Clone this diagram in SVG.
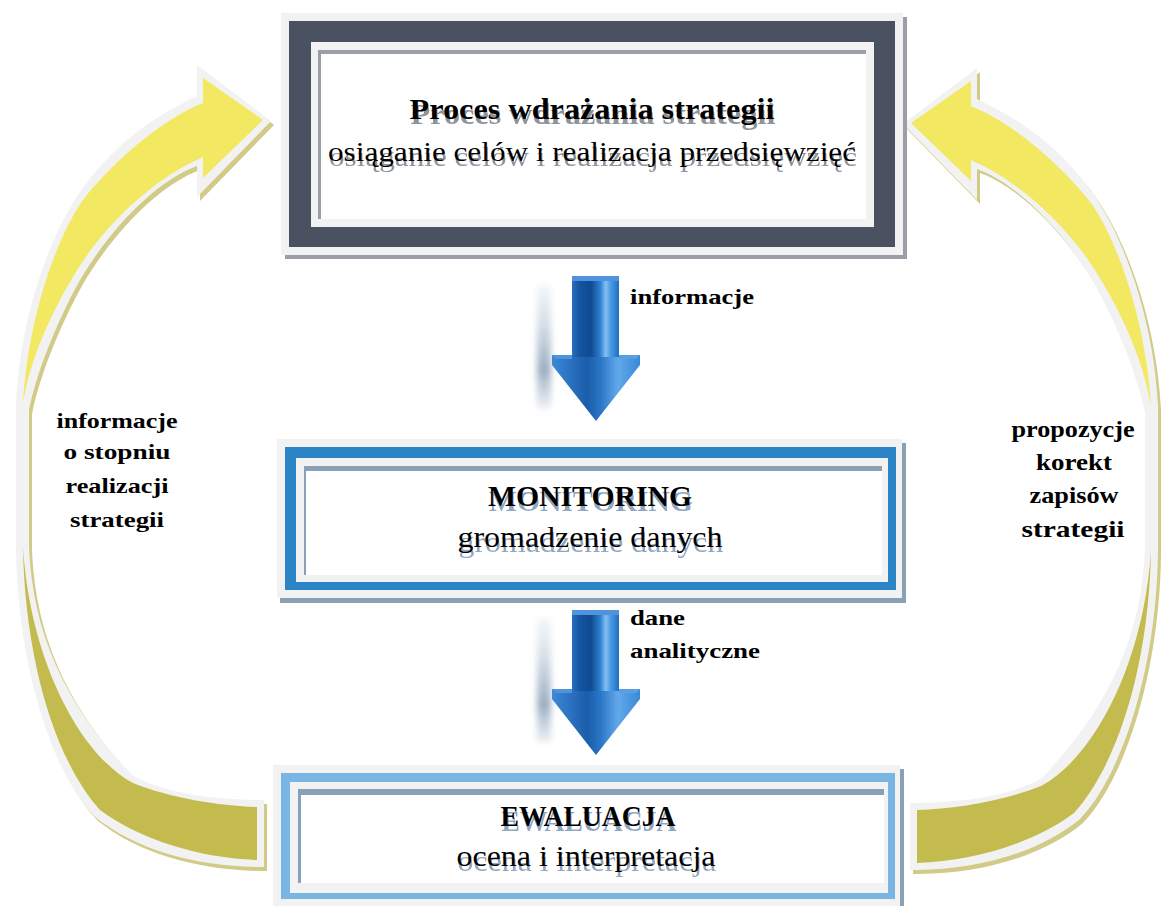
<svg xmlns="http://www.w3.org/2000/svg" xmlns:xlink="http://www.w3.org/1999/xlink" width="1162" height="906" viewBox="0 0 1162 906">
<defs>
<style>
.t{font-family:"Liberation Serif","Times New Roman",serif;fill:#000}
.b{font-weight:bold}
.sh1{fill:#7c818a;opacity:.85}
.sh2{fill:#7d98b4;opacity:.85}
.lbl{font-family:"Liberation Serif","Times New Roman",serif;font-weight:bold;fill:#000;text-anchor:middle}
.light{fill:#f2f2f2}
</style>
<linearGradient id="shaftG" x1="0" y1="0" x2="1" y2="0">
<stop offset="0" stop-color="#2a6fc0"/>
<stop offset="0.15" stop-color="#1456a3"/>
<stop offset="0.4" stop-color="#0f4a90"/>
<stop offset="0.6" stop-color="#2d7fd0"/>
<stop offset="0.72" stop-color="#86bff2"/>
<stop offset="0.82" stop-color="#4a9be3"/>
<stop offset="1" stop-color="#1f6ec4"/>
</linearGradient>
<linearGradient id="headG" x1="0" y1="0" x2="1" y2="0">
<stop offset="0" stop-color="#3d88d8"/>
<stop offset="0.4" stop-color="#1a5daa"/>
<stop offset="0.55" stop-color="#2a76c6"/>
<stop offset="0.75" stop-color="#62a8ea"/>
<stop offset="1" stop-color="#3a88d8"/>
</linearGradient>
<linearGradient id="ghostG" x1="0" y1="0" x2="0" y2="1">
<stop offset="0" stop-color="#c9d5e0" stop-opacity="0.2"/>
<stop offset="0.7" stop-color="#8ea4ba" stop-opacity="0.9"/>
<stop offset="1" stop-color="#b5c4d3" stop-opacity="0.3"/>
</linearGradient>
<filter id="blur" x="-1" y="-0.2" width="3" height="1.4"><feGaussianBlur stdDeviation="3"/></filter>
<g id="blueArrow">
<rect x="537" y="284" width="14" height="124" fill="url(#ghostG)" filter="url(#blur)"/>
<path d="M572,277 L619,277 L619,355 L640,355 L640,365 L596,421 L552,365 L552,355 L572,355 Z" fill="url(#headG)"/>
<rect x="572" y="277" width="47" height="80" fill="url(#shaftG)"/>
<rect x="572" y="276" width="47" height="5" fill="#4f93dc"/>
<path d="M552,355 L572,355 L572,359 L556,359 Z" fill="#4f93dc"/>
<path d="M619,355 L640,355 L636,359 L619,359 Z" fill="#5a9ee3"/>
</g>
<path id="yArrowBack" d="M264,867 L257,867 C196,866 135,850 94,816 C50,770 17,660 16,547 L16,403 C20,320 48,240 78,195 C110,148 150,118 197,96 L197,65 L271,121 L197,197 L197,166 C158,180 112,226 80,280 C55,325 36,375 29,410 L29,547 C33,640 70,710 133,776 C170,795 215,799 257,800 L264,800 Z"/>
<path id="yArrowYellow" d="M203,103 C160,120 110,165 83,200 C55,240 28,320 23,403 C30,360 50,315 73,277 C100,230 150,180 203,157 L203,178 L263,120 L203,78 Z"/>
<path id="yArrowOlive" d="M23,547 C25,660 55,760 100,810 C140,840 200,858 257,860 L257,807 C220,806 170,798 133,783 C80,755 30,660 23,547 Z"/>
</defs>

<g id="connectors">
<g id="arrow-left">
<use xlink:href="#yArrowBack" href="#yArrowBack" transform="translate(3,4)" fill="#d2cb88"/>
<use xlink:href="#yArrowBack" href="#yArrowBack" fill="#f2f2f2"/>
<use xlink:href="#yArrowYellow" href="#yArrowYellow" fill="#f2e862"/>
<use xlink:href="#yArrowOlive" href="#yArrowOlive" fill="#c4bb4e"/>
</g>
<g id="arrow-right">
<g transform="translate(3,7)"><use xlink:href="#yArrowBack" href="#yArrowBack" transform="matrix(-1 0 0 1 1174 0)" fill="#d2cb88"/></g>
<g transform="translate(0,3)">
<use xlink:href="#yArrowBack" href="#yArrowBack" transform="matrix(-1 0 0 1 1174 0)" fill="#f2f2f2"/>
<use xlink:href="#yArrowYellow" href="#yArrowYellow" transform="matrix(-1 0 0 1 1174 0)" fill="#f2e862"/>
<use xlink:href="#yArrowOlive" href="#yArrowOlive" transform="matrix(-1 0 0 1 1174 0)" fill="#c4bb4e"/>
</g>
</g>
<g id="arrow-informacje">
<use xlink:href="#blueArrow" href="#blueArrow"/>
</g>
<g id="arrow-dane">
<use xlink:href="#blueArrow" href="#blueArrow" transform="translate(0,334)"/>
</g>
</g>

<g id="node-proces">
<rect x="285" y="17" width="622" height="242" fill="#9a9ea6"/>
<rect x="281" y="13" width="622" height="242" class="light"/>
<rect x="289" y="21" width="606" height="226" fill="#4a5160"/>
<rect x="311" y="42" width="563" height="185" class="light"/>
<rect x="318" y="50" width="548" height="169" fill="#9a9ea6"/>
<rect x="321" y="54" width="545" height="165" fill="#ffffff"/>
<text class="t b sh1" x="593" y="124" font-size="29" text-anchor="middle" textLength="365" lengthAdjust="spacingAndGlyphs">Proces wdrażania strategii</text>
<text class="t b" x="592" y="119" font-size="29" text-anchor="middle" textLength="365" lengthAdjust="spacingAndGlyphs">Proces wdrażania strategii</text>
<text class="t sh1" x="593" y="166" font-size="28" text-anchor="middle" textLength="528" lengthAdjust="spacingAndGlyphs">osiąganie celów i realizacja przedsięwzięć</text>
<text class="t" x="592" y="161" font-size="28" text-anchor="middle" textLength="528" lengthAdjust="spacingAndGlyphs">osiąganie celów i realizacja przedsięwzięć</text>
</g>

<g id="node-monitoring">
<rect x="280" y="443" width="626" height="160" fill="#8aa0b4"/>
<rect x="277" y="439" width="625" height="159" class="light"/>
<rect x="285" y="447" width="611" height="143" fill="#2a84c6"/>
<rect x="296" y="458" width="592" height="124" class="light"/>
<rect x="304" y="466" width="578" height="109" fill="#8aa0b4"/>
<rect x="306" y="471" width="576" height="104" fill="#ffffff"/>
<text class="t b sh2" x="591" y="511" font-size="29" text-anchor="middle" textLength="204" lengthAdjust="spacingAndGlyphs">MONITORING</text>
<text class="t b" x="590" y="506" font-size="29" text-anchor="middle" textLength="204" lengthAdjust="spacingAndGlyphs">MONITORING</text>
<text class="t sh2" x="591" y="552" font-size="29" text-anchor="middle" textLength="265" lengthAdjust="spacingAndGlyphs">gromadzenie danych</text>
<text class="t" x="590" y="547" font-size="29" text-anchor="middle" textLength="265" lengthAdjust="spacingAndGlyphs">gromadzenie danych</text>
</g>

<g id="node-ewaluacja">
<rect x="277" y="769" width="627" height="140" fill="#8aa0b4"/>
<rect x="273" y="765" width="627" height="141" class="light"/>
<rect x="281" y="773" width="614" height="126" fill="#79b6e3"/>
<rect x="290" y="782" width="598" height="111" class="light"/>
<rect x="298" y="789" width="586" height="94" fill="#8aa0b4"/>
<rect x="301" y="795" width="583" height="88" fill="#ffffff"/>
<text class="t b sh2" x="589" y="831" font-size="29" text-anchor="middle" textLength="175" lengthAdjust="spacingAndGlyphs">EWALUACJA</text>
<text class="t b" x="588" y="826" font-size="29" text-anchor="middle" textLength="175" lengthAdjust="spacingAndGlyphs">EWALUACJA</text>
<text class="t sh2" x="587" y="871" font-size="29" text-anchor="middle" textLength="259" lengthAdjust="spacingAndGlyphs">ocena i interpretacja</text>
<text class="t" x="586" y="866" font-size="29" text-anchor="middle" textLength="259" lengthAdjust="spacingAndGlyphs">ocena i interpretacja</text>
</g>

<g id="labels">
<text class="t b" x="630" y="304" font-size="22" textLength="124" lengthAdjust="spacingAndGlyphs">informacje</text>
<text class="t b" x="630" y="625" font-size="22" textLength="55" lengthAdjust="spacingAndGlyphs">dane</text>
<text class="t b" x="630" y="658" font-size="22" textLength="130" lengthAdjust="spacingAndGlyphs">analityczne</text>
<text class="lbl" x="117" y="428" font-size="22" textLength="121" lengthAdjust="spacingAndGlyphs">informacje</text>
<text class="lbl" x="117" y="459" font-size="22" textLength="107" lengthAdjust="spacingAndGlyphs">o stopniu</text>
<text class="lbl" x="117" y="493" font-size="22" textLength="103" lengthAdjust="spacingAndGlyphs">realizacji</text>
<text class="lbl" x="117" y="527" font-size="22" textLength="94" lengthAdjust="spacingAndGlyphs">strategii</text>
<text class="lbl" x="1073" y="437" font-size="23" textLength="123" lengthAdjust="spacingAndGlyphs">propozycje</text>
<text class="lbl" x="1074" y="470" font-size="23" textLength="76" lengthAdjust="spacingAndGlyphs">korekt</text>
<text class="lbl" x="1074" y="503" font-size="23" textLength="89" lengthAdjust="spacingAndGlyphs">zapisów</text>
<text class="lbl" x="1073" y="537" font-size="23" textLength="103" lengthAdjust="spacingAndGlyphs">strategii</text>
</g>
</svg>
